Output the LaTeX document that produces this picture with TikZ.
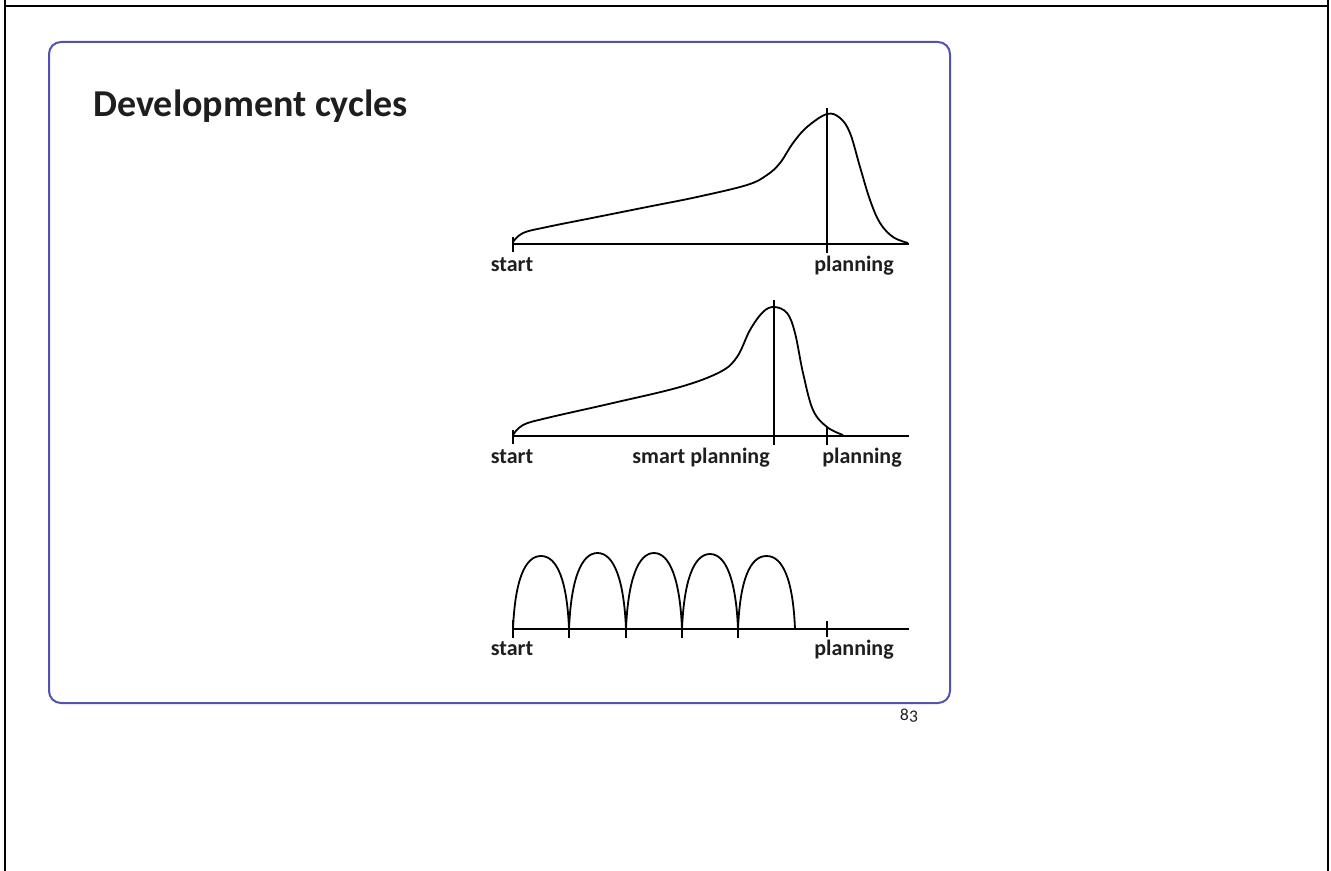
\documentclass[tikz,border=0pt]{standalone}
\usepackage{fontspec}
\setmainfont{Carlito}[Numbers=OldStyle]
\definecolor{framebl}{HTML}{5252B0}
\definecolor{inkc}{HTML}{1E1E1E}
\tikzset{
  outerline/.style={line width=1pt, black},
  panel/.style={draw=framebl, line width=1pt, rounded corners=6pt},
  axisline/.style={line width=0.8pt, black},
  curveline/.style={line width=0.9pt, black, line join=round},
  ticklbl/.style={font=\bfseries\fontsize{11}{13}\selectfont, text=inkc, anchor=base, inner sep=0pt},
  titlelbl/.style={font=\bfseries\fontsize{19}{23}\selectfont, text=inkc, anchor=base west, inner sep=0pt},
  pagelbl/.style={font=\fontsize{9}{11}\selectfont, text=inkc, anchor=base, inner sep=0pt}
}
\begin{document}
\begin{tikzpicture}[x=0.5pt,y=-0.5pt]
\useasboundingbox (0,0) rectangle (1331,871);
% outer frame
\draw[outerline] (5,0) -- (5,871);
\draw[outerline] (1328,0) -- (1328,871);
\draw[outerline] (5,5.7) -- (1328,5.7);
% slide panel
\draw[panel] (49,42) rectangle (950,703);
\node[titlelbl] (title) at (93,117) {Development cycles};
\node[pagelbl] (pagenum) at (909,720) {83};

% ---------- panel 1 ----------
\coordinate (a1s) at (513,244);
\coordinate (a1e) at (909,244);
\coordinate (t1a) at (513,237);
\coordinate (t1b) at (513,252);
\coordinate (p1a) at (827,108);
\coordinate (p1b) at (827,253);
\draw[axisline] (a1s) -- (a1e);
\draw[axisline] (t1a) -- (t1b);
\draw[axisline] (p1a) -- (p1b);
\draw[curveline] plot[smooth, tension=0.6] coordinates {
 (513,242) (523,233) (547,227) (597,217) (647,207) (697,197) (747,185)
 (767,175) (780,163) (793,143) (807,127) (827,114) (840,118) (850,133)
 (860,167) (870,200) (880,223) (893,237) (908,243)};
\node[ticklbl] (s1) at (512,272) {start};
\node[ticklbl] (pl1) at (854,272) {planning};

% ---------- panel 2 ----------
\coordinate (a2s) at (513,436);
\coordinate (a2e) at (909,436);
\coordinate (t2a) at (513,430);
\coordinate (t2b) at (513,444);
\coordinate (sp2a) at (774,300);
\coordinate (sp2b) at (774,445);
\coordinate (p2a) at (827,427);
\coordinate (p2b) at (827,445);
\draw[axisline] (a2s) -- (a2e);
\draw[axisline] (t2a) -- (t2b);
\draw[axisline] (sp2a) -- (sp2b);
\draw[axisline] (p2a) -- (p2b);
\draw[curveline] plot[smooth, tension=0.6] coordinates {
 (513,435) (523,425) (547,418) (613,403) (680,387) (720,372) (737,357)
 (750,330) (763,312) (774,307) (787,313) (795,333) (803,373) (813,410)
 (827,427) (843,435)};
\node[ticklbl] (s2) at (512,463) {start};
\node[ticklbl] (sp2) at (701,463) {smart planning};
\node[ticklbl] (pl2) at (862,463) {planning};

% ---------- panel 3 ----------
\coordinate (a3s) at (513,629);
\coordinate (a3e) at (909,629);
\coordinate (t3a) at (513,620);
\coordinate (t3b) at (513,638);
\coordinate (p3a) at (827,621);
\coordinate (p3b) at (827,637);
\draw[axisline] (a3s) -- (a3e);
\draw[axisline] (t3a) -- (t3b);
\draw[axisline] (p3a) -- (p3b);
\foreach \x in {569,626,682,738} {
  \draw[axisline] (\x,627) -- (\x,638);
}
\foreach \a/\b/\p in {513/569/556, 569/626/553, 626/682/553, 682/738/554, 738/795/556} {
  \draw[curveline] (\a,629) .. controls (\a+2,580) and (\a+12,\p) .. ({(\a+\b)/2},\p)
                            .. controls (\b-12,\p) and (\b-2,580) .. (\b,629);
}
\node[ticklbl] (s3) at (512,655) {start};
\node[ticklbl] (pl3) at (854,655) {planning};
\end{tikzpicture}
\end{document}
